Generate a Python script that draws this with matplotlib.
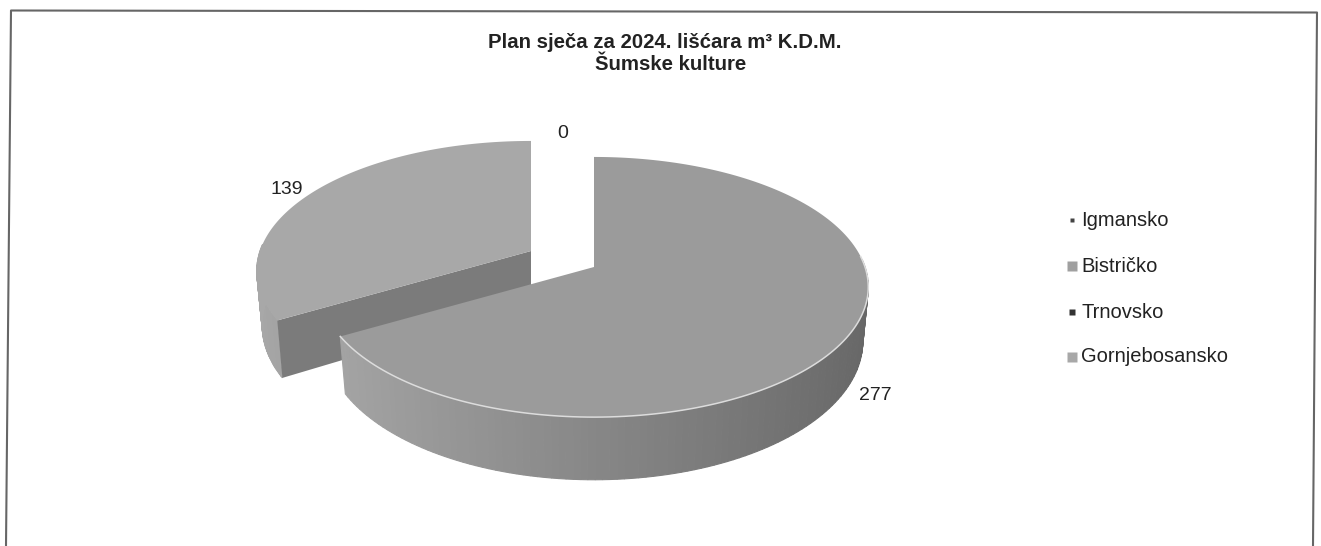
import numpy as np
import matplotlib
matplotlib.use('Agg')
import matplotlib.pyplot as plt
from matplotlib.colors import to_rgb

plt.rcParams['font.family'] = ['Liberation Sans', 'DejaVu Sans']

# podaci
title_lines = ['Plan sječa za 2024. lišćara m³ K.D.M.', 'Šumske kulture']
categories = ['Igmansko', 'Bistričko', 'Trnovsko', 'Gornjebosansko']
values = [0, 277, 0, 139]
value_labels = ['0', '277', '', '139']
top_colors = ['#ffffff', '#9b9b9b', '#3a3a3a', '#a8a8a8']
legend_colors = ['#444444', '#a0a0a0', '#333333', '#a8a8a8']

# geometrija pite u pikselima
APEX_X, APEX_Y = 594, 267
RX, RY = 271, 127
PERSP = 0.154
DEPTH = 53
SHRINK = 0.02
EXPLODE = {3: (-63, -16)}


def project(angle):
    # ugao u stepenima, 0 je gore, raste u smjeru kazaljke
    a = np.radians(angle)
    u, v = np.sin(a), np.cos(a)
    w = 1 + PERSP * v
    return APEX_X + RX * u / w, APEX_Y - RY * v / w, DEPTH / w


def mix(c1, c2, t):
    c1, c2 = np.array(to_rgb(c1)), np.array(to_rgb(c2))
    return tuple(c1 + (c2 - c1) * t)


def wall_color(angle):
    # svjetlije lijevo, tamnije desno
    t = np.clip((1 - np.sin(np.radians(angle))) / 2, 0, 1)
    return mix('#666666', '#a8a8a8', t)


def draw_slice(ax, start, end, color, dx, dy, z, cut):
    th = np.linspace(start, end, 181)
    x, y, d = project(th)
    xb = x - (x - APEX_X) * SHRINK + dx
    x, y = x + dx, y + dy
    # vanjski zid
    for i in range(len(th) - 1):
        mid = (th[i] + th[i + 1]) / 2
        if np.cos(np.radians(mid)) > 0.05:
            continue
        c = wall_color(mid)
        ax.fill([x[i], x[i + 1], xb[i + 1], xb[i]],
                [y[i], y[i + 1], y[i + 1] + d[i + 1], y[i] + d[i]],
                facecolor=c, edgecolor=c, lw=0.8, zorder=z)
    # presjek odvojene kriske, okrenut prema velikoj
    if cut:
        ax.fill([APEX_X + dx, x[0], xb[0], APEX_X + dx],
                [APEX_Y + dy, y[0], y[0] + d[0], APEX_Y + dy + DEPTH],
                color='#7b7b7b', lw=0, zorder=z + 0.1)
    # gornja ploha
    ax.fill(np.r_[APEX_X + dx, x], np.r_[APEX_Y + dy, y], color=color, lw=0, zorder=z + 0.2)
    return x, y, th


fig = plt.figure(figsize=(13.21, 5.46), dpi=100)
ax = fig.add_axes([0, 0, 1, 1])
ax.set_xlim(0, 1321)
ax.set_ylim(546, 0)
ax.axis('off')

# okvir, sken je malo nakrivljen i donja ivica nije vidljiva
ax.plot([6, 11, 1317, 1313], [546, 10.5, 12.5, 546], color='#666666', lw=1.5, zorder=1)

total = sum(values)
angle = 0
order = []
for i, val in enumerate(values):
    sweep = 360 * val / total
    order.append((i, angle, angle + sweep))
    angle += sweep

# prvo odvojena kriska, pa velika preko nje
for i, start, end in sorted(order, key=lambda s: s[0] not in EXPLODE):
    if end - start <= 0:
        continue
    dx, dy = EXPLODE.get(i, (0, 0))
    x, y, th = draw_slice(ax, start, end, top_colors[i], dx, dy, 2 + (i not in EXPLODE) * 2, i in EXPLODE)
    if i not in EXPLODE:
        front = np.cos(np.radians(th)) < 0.1
        ax.plot(x[front], y[front], color='#dcdcdc', lw=1.1, zorder=4.5)

# natpisi vrijednosti
label_pos = [(563, 133), (875, 396), None, (287, 190)]
for txt, pos in zip(value_labels, label_pos):
    if pos:
        ax.text(pos[0], pos[1], txt, ha='center', va='center', fontsize=14, color='#222222')

ax.text(665, 42, title_lines[0], ha='center', va='center', fontsize=14.7, fontweight='bold', color='#222222')
ax.text(671, 65, title_lines[1], ha='center', va='center', fontsize=14.7, fontweight='bold', color='#222222')

# legenda
legend_y = [220, 266, 312, 357]
marker_sizes = [3, 6.5, 5, 6.5]
for name, col, ly, ms in zip(categories, legend_colors, legend_y, marker_sizes):
    ax.plot([1071.5], [ly], marker='s', ms=ms, color=col, mec='none', zorder=5)
    ax.text(1081, ly, name, ha='left', va='center', fontsize=14.5, color='#222222')

fig.savefig('out.png', dpi=100, facecolor='white')
